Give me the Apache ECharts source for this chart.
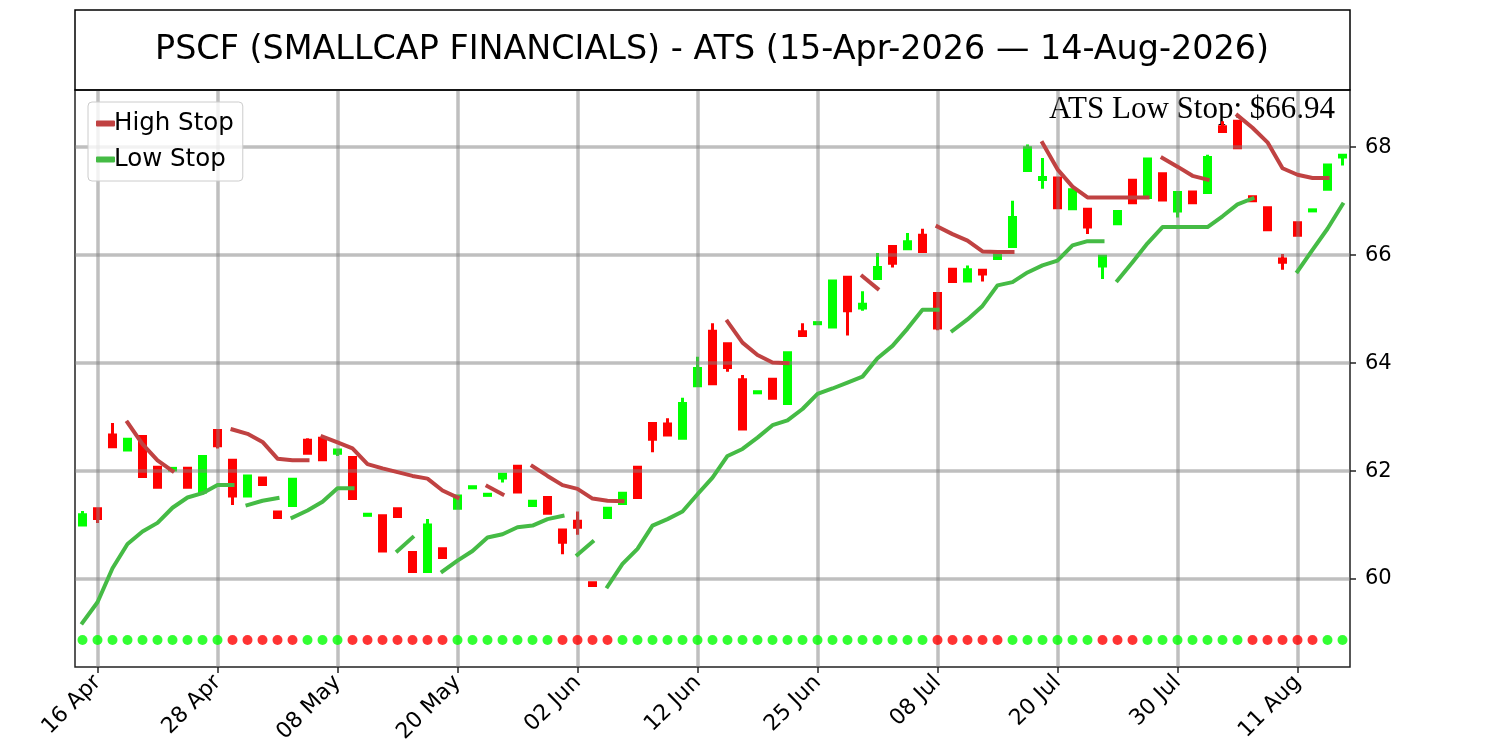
<!DOCTYPE html>
<html>
<head>
<meta charset="utf-8">
<title>PSCF ATS</title>
<script src="https://cdn.jsdelivr.net/npm/echarts@6.0.0/dist/echarts.min.js"></script>
<style>
  html, body { margin: 0; padding: 0; background: #fff; }
  #main { width: 1500px; height: 750px; }
</style>
</head>
<body>
<div id="main"></div>
<script>
// trading days, 15 Apr 2026 - 14 Aug 2026
var dates = [
  '2026-04-15','2026-04-16','2026-04-17','2026-04-20','2026-04-21','2026-04-22','2026-04-23','2026-04-24','2026-04-27','2026-04-28',
  '2026-04-29','2026-04-30','2026-05-01','2026-05-04','2026-05-05','2026-05-06','2026-05-07','2026-05-08','2026-05-11','2026-05-12',
  '2026-05-13','2026-05-14','2026-05-15','2026-05-18','2026-05-19','2026-05-20','2026-05-21','2026-05-22','2026-05-26','2026-05-27',
  '2026-05-28','2026-05-29','2026-06-01','2026-06-02','2026-06-03','2026-06-04','2026-06-05','2026-06-08','2026-06-09','2026-06-10',
  '2026-06-11','2026-06-12','2026-06-15','2026-06-16','2026-06-17','2026-06-18','2026-06-22','2026-06-23','2026-06-24','2026-06-25',
  '2026-06-26','2026-06-29','2026-06-30','2026-07-01','2026-07-02','2026-07-06','2026-07-07','2026-07-08','2026-07-09','2026-07-10',
  '2026-07-13','2026-07-14','2026-07-15','2026-07-16','2026-07-17','2026-07-20','2026-07-21','2026-07-22','2026-07-23','2026-07-24',
  '2026-07-27','2026-07-28','2026-07-29','2026-07-30','2026-07-31','2026-08-03','2026-08-04','2026-08-05','2026-08-06','2026-08-07',
  '2026-08-10','2026-08-11','2026-08-12','2026-08-13','2026-08-14'
];

var opens = [
  61.00,61.30,62.67,62.39,62.64,62.07,62.02,62.05,61.61,62.75,
  62.20,61.54,61.87,61.24,61.36,62.57,62.61,62.33,62.25,61.18,
  61.17,61.30,60.49,60.14,60.56,61.31,61.69,61.55,61.87,62.09,
  61.36,61.51,60.91,61.07,59.93,61.14,61.40,62.07,62.88,62.87,
  62.61,63.58,64.59,64.36,63.69,63.45,63.70,63.25,64.58,64.73,
  64.67,65.59,65.02,65.57,66.16,66.12,66.37,65.29,65.74,65.52,
  65.72,65.94,66.16,67.57,67.40,67.43,66.86,66.85,65.80,66.58,
  67.39,67.07,67.51,66.82,67.17,67.16,68.38,68.48,67.08,66.88,
  65.93,66.60,66.82,67.22,67.82
];
var highs = [
  61.26,61.30,62.89,62.61,62.64,62.07,62.05,62.05,62.30,62.75,
  62.20,61.93,61.87,61.24,61.85,62.61,62.61,62.39,62.25,61.20,
  61.17,61.30,60.49,61.11,60.56,61.54,61.71,61.57,61.94,62.09,
  61.44,61.51,60.91,61.25,59.96,61.31,61.59,62.07,62.88,62.98,
  63.36,64.12,64.74,64.36,63.78,63.47,63.70,64.19,64.74,64.75,
  65.52,65.59,65.33,66.04,66.16,66.41,66.49,65.29,65.74,65.81,
  65.72,66.02,67.01,68.05,67.80,67.43,67.21,66.85,65.98,66.81,
  67.39,67.78,67.51,67.16,67.17,67.86,68.48,68.48,67.08,66.88,
  66.02,66.60,66.84,67.67,67.85
];
var lows = [
  61.00,61.04,62.45,62.39,61.90,61.70,62.02,61.70,61.61,62.42,
  61.37,61.54,61.75,61.14,61.36,62.33,62.21,62.28,61.49,61.18,
  60.52,61.16,60.14,60.14,60.40,61.31,61.69,61.55,61.79,61.61,
  61.36,61.22,60.46,60.82,59.88,61.14,61.40,61.51,62.35,62.67,
  62.61,63.58,63.62,63.84,62.75,63.45,63.35,63.25,64.51,64.73,
  64.64,64.51,64.97,65.57,65.77,66.10,66.07,64.61,65.51,65.52,
  65.51,65.94,66.16,67.57,67.23,66.88,66.86,66.39,65.56,66.58,
  66.97,67.07,67.02,66.70,66.97,67.16,68.29,67.99,67.01,66.47,
  65.73,66.37,66.82,67.22,67.66
];
var closes = [
  61.19,61.12,62.45,62.59,61.90,61.70,62.05,61.70,62.27,62.47,
  61.54,61.91,61.75,61.14,61.85,62.33,62.21,62.39,61.49,61.20,
  60.52,61.16,60.14,61.00,60.40,61.54,61.71,61.57,61.94,61.61,
  61.44,61.22,60.68,60.96,59.88,61.31,61.59,61.51,62.59,62.67,
  63.25,63.90,63.62,63.92,62.78,63.47,63.35,64.19,64.51,64.75,
  65.52,64.97,65.09,65.77,65.85,66.25,66.07,64.65,65.51,65.73,
  65.65,66.02,66.70,67.99,67.44,66.88,67.21,66.52,65.98,66.81,
  66.97,67.78,67.02,67.16,66.97,67.81,68.29,67.99,67.01,66.47,
  65.87,66.37,66.84,67.67,67.85
];

var highStop = [
  null,null,null,62.90,62.50,62.20,62.00,null,null,null,
  62.77,62.69,62.54,62.23,62.20,62.20,62.64,62.53,62.42,62.13,
  62.05,61.98,61.91,61.86,61.64,61.51,null,61.72,61.57,null,
  62.09,61.91,61.74,61.67,61.49,61.45,61.44,null,null,null,
  null,null,null,64.77,64.38,64.15,64.01,64.00,null,null,
  null,null,65.61,65.38,null,null,null,66.53,66.39,66.27,
  66.07,66.06,66.06,null,68.08,67.59,67.27,67.07,67.07,67.07,
  67.07,67.07,67.80,67.64,67.47,67.40,null,68.59,68.36,68.09,
  67.61,67.49,67.43,67.43,null
];
var highStopBreaks = [16, 72];

var lowStop = [
  59.19,59.57,60.20,60.65,60.88,61.04,61.32,61.51,61.59,61.74,
  61.74,61.37,61.45,61.50,61.14,61.27,61.43,61.68,61.68,null,
  null,60.52,60.77,null,60.14,60.34,60.52,60.77,60.83,60.96,
  60.99,61.11,61.17,60.45,60.69,59.86,60.28,60.56,60.99,61.11,
  61.25,61.57,61.88,62.28,62.41,62.62,62.85,62.94,63.15,63.43,
  63.53,63.64,63.75,64.09,64.32,64.64,64.99,64.99,64.60,64.81,
  65.06,65.44,65.50,65.68,65.81,65.90,66.18,66.26,66.26,65.53,
  65.87,66.22,66.52,66.52,66.52,66.52,66.72,66.94,67.05,null,
  null,65.70,66.10,66.49,66.94
];
var lowStopBreaks = [11, 14, 33, 35, 58, 69];

// 1 = green dot, 0 = red dot
var signal = [
  1,1,1,1,1,1,1,1,1,1, 0,0,0,0,0,1,1,1,0,0,
  0,0,0,0,0,1,1,1,1,1, 1,1,0,0,0,0,1,1,1,1,
  1,1,1,1,1,1,1,1,1,1, 1,1,1,1,1,1,1,0,0,0,
  0,0,1,1,1,1,1,1,0,0, 0,1,1,1,1,1,1,1,0,0,
  0,0,0,1,1
];
var dotLevel = 58.87;

var yTicks = [60, 62, 64, 66, 68];
var monthNames = ['Jan','Feb','Mar','Apr','May','Jun','Jul','Aug','Sep','Oct','Nov','Dec'];

var UP = '#00ff00', DOWN = '#ff0000';
var HIGH_COL = '#c04242', LOW_COL = '#45bb45';

function isTick(i) { return i % 8 === 1; }

function fmtDate(s) {
  var p = s.split('-');
  return p[2] + ' ' + monthNames[parseInt(p[1], 10) - 1];
}

// split a stop series into separate polylines (gaps at nulls and at breaks)
function toSegments(vals, breaks) {
  var segs = [], cur = null;
  vals.forEach(function (v, i) {
    if (v == null) { cur = null; return; }
    if (!cur || breaks.indexOf(i) >= 0) { cur = []; segs.push(cur); }
    cur.push([i, v]);
  });
  return segs.map(function (c) { return { coords: c }; });
}

var candleData = dates.map(function (d, i) {
  return [opens[i], closes[i], lows[i], highs[i]];
});

var dotData = signal.map(function (s, i) {
  return { value: [i, dotLevel], itemStyle: { color: s ? UP : DOWN } };
});

var gridLines = [];
dates.forEach(function (d, i) { if (isTick(i)) gridLines.push({ xAxis: i }); });
yTicks.forEach(function (v) { gridLines.push({ yAxis: v }); });

var lastLow = lowStop[lowStop.length - 1];

const chart = echarts.init(document.getElementById('main'));

chart.setOption({
  animation: false,
  backgroundColor: '#fff',
  textStyle: { fontFamily: 'DejaVu Sans' },
  grid: {
    left: 75, right: 150, top: 90, bottom: 83,
    show: true, borderColor: '#222', borderWidth: 1.5
  },
  graphic: [
    {
      type: 'rect', x: 75, y: 10, z: 10,
      shape: { x: 0, y: 0, width: 1275, height: 80 },
      style: { fill: 'none', stroke: '#000', lineWidth: 1.5 }
    },
    {
      type: 'text', x: 712, y: 50, z: 10,
      style: {
        text: 'PSCF (SMALLCAP FINANCIALS) - ATS (15-Apr-2026 \u2014 14-Aug-2026)',
        fontFamily: 'DejaVu Sans', fontSize: 33.4, fill: '#000',
        align: 'center', verticalAlign: 'middle'
      }
    },
    {
      type: 'text', x: 1335, y: 110, z: 1,
      style: {
        text: 'ATS Low Stop: $' + lastLow.toFixed(2),
        fontFamily: 'Liberation Serif', fontSize: 31, fill: '#000',
        align: 'right', verticalAlign: 'middle'
      }
    }
  ],
  legend: {
    orient: 'vertical',
    left: 88, top: 102,
    padding: [9, 9, 9, 8],
    itemGap: 11,
    itemWidth: 17, itemHeight: 4,
    backgroundColor: 'rgba(255,255,255,0.8)',
    borderColor: '#cccccc', borderWidth: 1, borderRadius: 4,
    textStyle: { fontSize: 24.5, color: '#000', fontFamily: 'DejaVu Sans', padding: [0, 0, 0, -5] },
    data: [
      { name: 'High Stop', icon: 'rect', itemStyle: { color: HIGH_COL } },
      { name: 'Low Stop', icon: 'rect', itemStyle: { color: LOW_COL } }
    ],
    z: 20
  },
  xAxis: {
    type: 'category',
    data: dates,
    boundaryGap: true,
    axisLine: { show: false },
    axisTick: {
      show: true, alignWithLabel: true, length: 6,
      interval: function (i) { return isTick(i); },
      lineStyle: { color: '#222', width: 1.5 }
    },
    axisLabel: {
      interval: function (i) { return isTick(i); },
      rotate: 45, fontSize: 22, color: '#000', margin: 12,
      fontFamily: 'DejaVu Sans',
      formatter: fmtDate
    },
    splitLine: { show: false }
  },
  yAxis: {
    type: 'value',
    position: 'right',
    min: 58.37, max: 69.06,
    splitLine: { show: false },
    axisLine: { show: false },
    axisTick: {
      show: true, length: 6, customValues: yTicks,
      lineStyle: { color: '#222', width: 1.5 }
    },
    axisLabel: {
      customValues: yTicks,
      fontSize: 21, color: '#000', margin: 15, fontFamily: 'DejaVu Sans'
    }
  },
  series: [
    {
      name: 'Price',
      type: 'candlestick',
      data: candleData,
      barWidth: 7,
      z: 2,
      itemStyle: {
        color: UP, color0: DOWN,
        borderColor: UP, borderColor0: DOWN,
        borderWidth: 3
      },
      markLine: {
        silent: true,
        symbol: 'none',
        z: 4,
        label: { show: false },
        lineStyle: { color: 'rgba(128,128,128,0.5)', width: 3.5, type: 'solid' },
        emphasis: { disabled: true },
        data: gridLines
      }
    },
    {
      name: 'High Stop',
      type: 'lines',
      coordinateSystem: 'cartesian2d',
      polyline: true,
      silent: true,
      z: 6,
      lineStyle: { color: HIGH_COL, width: 4, opacity: 1, cap: 'square', join: 'round' },
      data: toSegments(highStop, highStopBreaks)
    },
    {
      name: 'Low Stop',
      type: 'lines',
      coordinateSystem: 'cartesian2d',
      polyline: true,
      silent: true,
      z: 6,
      lineStyle: { color: LOW_COL, width: 4, opacity: 1, cap: 'square', join: 'round' },
      data: toSegments(lowStop, lowStopBreaks)
    },
    {
      name: 'Signal',
      type: 'scatter',
      symbol: 'circle',
      symbolSize: 10,
      z: 7,
      silent: true,
      data: dotData
    }
  ]
});
</script>
</body>
</html>
